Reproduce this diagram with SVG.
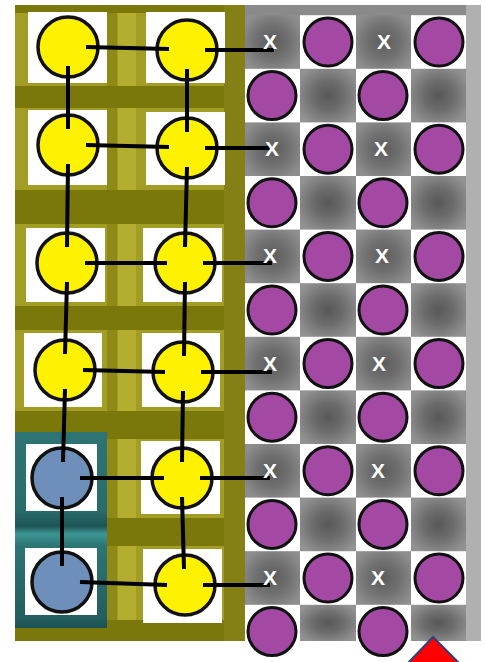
<svg xmlns="http://www.w3.org/2000/svg" width="486" height="662" viewBox="0 0 486 662">
<defs>
<radialGradient id="gtile" cx="0.5" cy="0.5" r="0.6">
  <stop offset="0" stop-color="#585858"/>
  <stop offset="0.45" stop-color="#6c6c6c"/>
  <stop offset="1" stop-color="#929292"/>
</radialGradient>
<radialGradient id="xtile" cx="0.5" cy="0.5" r="0.6">
  <stop offset="0" stop-color="#5c5c5c"/>
  <stop offset="0.5" stop-color="#707070"/>
  <stop offset="1" stop-color="#8e8e8e"/>
</radialGradient>
<linearGradient id="teal" x1="0" y1="0" x2="0" y2="1">
  <stop offset="0" stop-color="#2e7474"/>
  <stop offset="0.4" stop-color="#2a6c6c"/>
  <stop offset="0.48" stop-color="#1e5454"/>
  <stop offset="0.52" stop-color="#3d9696"/>
  <stop offset="0.58" stop-color="#2d7575"/>
  <stop offset="0.95" stop-color="#225e5e"/>
  <stop offset="1" stop-color="#1d5050"/>
</linearGradient>
</defs>
<style>
.sq{fill:#ffffff}
.yn{fill:#fff200;stroke:#111;stroke-width:3.5}
.bn{fill:#6e8fba;stroke:#111;stroke-width:3.5}
.pn{fill:#a349a4;stroke:#111;stroke-width:3}
.tile{fill:#ffffff}
.gt{fill:url(#gtile)}
.xt{fill:url(#xtile)}
.band{fill:#7a770b}
.xl{font-family:"Liberation Sans",Arial,sans-serif;font-weight:bold;font-size:21px;fill:#ffffff;text-anchor:middle}
.edge{stroke:#000;stroke-width:4;stroke-linecap:butt;fill:none}
</style>
<rect width="486" height="662" fill="#ffffff"/>
<g id="background">
  <rect x="15" y="5" width="232" height="636" fill="#a29d25"/>
  <rect x="118" y="5" width="18" height="636" fill="#b3ad30"/>
  <rect x="107" y="5" width="10" height="636" fill="#8f8a18"/>
  <rect class="band" x="15" y="5" width="232" height="8"/>
  <rect class="band" x="15" y="86" width="232" height="22"/>
  <rect class="band" x="15" y="190" width="232" height="34"/>
  <rect class="band" x="15" y="306" width="232" height="24"/>
  <rect class="band" x="15" y="411" width="232" height="28"/>
  <rect class="band" x="15" y="518" width="232" height="28"/>
  <rect class="band" x="15" y="620" width="232" height="21"/>
  <rect x="224" y="5" width="23" height="636" fill="#858015"/>
  <rect x="15" y="432" width="92" height="196" fill="url(#teal)"/>
  <rect x="245" y="5" width="236" height="636" fill="#8a8a8a"/>
  <rect x="466" y="5" width="15" height="636" fill="#b0b0b0"/>
  <g id="gray-tiles">
    <rect class="xt" x="245" y="15.2" width="55" height="53.6"/><rect class="xt" x="356" y="15.2" width="55" height="53.6"/>
    <rect class="gt" x="300" y="68.8" width="56" height="53.6"/><rect class="gt" x="411" y="68.8" width="55" height="53.6"/>
    <rect class="xt" x="245" y="122.4" width="55" height="53.6"/><rect class="xt" x="356" y="122.4" width="55" height="53.6"/>
    <rect class="gt" x="300" y="176" width="56" height="53.6"/><rect class="gt" x="411" y="176" width="55" height="53.6"/>
    <rect class="xt" x="245" y="229.6" width="55" height="53.6"/><rect class="xt" x="356" y="229.6" width="55" height="53.6"/>
    <rect class="gt" x="300" y="283.2" width="56" height="53.6"/><rect class="gt" x="411" y="283.2" width="55" height="53.6"/>
    <rect class="xt" x="245" y="336.8" width="55" height="53.6"/><rect class="xt" x="356" y="336.8" width="55" height="53.6"/>
    <rect class="gt" x="300" y="390.4" width="56" height="53.6"/><rect class="gt" x="411" y="390.4" width="55" height="53.6"/>
    <rect class="xt" x="245" y="444" width="55" height="53.6"/><rect class="xt" x="356" y="444" width="55" height="53.6"/>
    <rect class="gt" x="300" y="497.6" width="56" height="53.6"/><rect class="gt" x="411" y="497.6" width="55" height="53.6"/>
    <rect class="xt" x="245" y="551.2" width="55" height="53.6"/><rect class="xt" x="356" y="551.2" width="55" height="53.6"/>
    <rect class="gt" x="300" y="604.8" width="56" height="36.2"/><rect class="gt" x="411" y="604.8" width="55" height="36.2"/>
  </g>
  <g id="white-tiles">
    <rect class="tile" x="300" y="15.2" width="56" height="53.6"/><rect class="tile" x="411" y="15.2" width="55" height="53.6"/>
    <rect class="tile" x="245" y="68.8" width="55" height="53.6"/><rect class="tile" x="356" y="68.8" width="55" height="53.6"/>
    <rect class="tile" x="300" y="122.4" width="56" height="53.6"/><rect class="tile" x="411" y="122.4" width="55" height="53.6"/>
    <rect class="tile" x="245" y="176" width="55" height="53.6"/><rect class="tile" x="356" y="176" width="55" height="53.6"/>
    <rect class="tile" x="300" y="229.6" width="56" height="53.6"/><rect class="tile" x="411" y="229.6" width="55" height="53.6"/>
    <rect class="tile" x="245" y="283.2" width="55" height="53.6"/><rect class="tile" x="356" y="283.2" width="55" height="53.6"/>
    <rect class="tile" x="300" y="336.8" width="56" height="53.6"/><rect class="tile" x="411" y="336.8" width="55" height="53.6"/>
    <rect class="tile" x="245" y="390.4" width="55" height="53.6"/><rect class="tile" x="356" y="390.4" width="55" height="53.6"/>
    <rect class="tile" x="300" y="444" width="56" height="53.6"/><rect class="tile" x="411" y="444" width="55" height="53.6"/>
    <rect class="tile" x="245" y="497.6" width="55" height="53.6"/><rect class="tile" x="356" y="497.6" width="55" height="53.6"/>
    <rect class="tile" x="300" y="551.2" width="56" height="53.6"/><rect class="tile" x="411" y="551.2" width="55" height="53.6"/>
    <rect class="tile" x="245" y="604.8" width="55" height="57"/><rect class="tile" x="356" y="604.8" width="55" height="57"/>
  </g>
</g>
<g id="node-squares">
  <rect class="sq" x="28" y="12" width="79" height="71"/><rect class="sq" x="146" y="12" width="79" height="71"/>
  <rect class="sq" x="28" y="110" width="79" height="75"/><rect class="sq" x="146" y="112" width="79" height="73"/>
  <rect class="sq" x="26" y="228" width="79" height="74"/><rect class="sq" x="143" y="228" width="79" height="74"/>
  <rect class="sq" x="24" y="333" width="78" height="74"/><rect class="sq" x="142" y="333" width="78" height="74"/>
  <rect class="sq" x="26" y="444" width="71" height="67"/><rect class="sq" x="141" y="441" width="79" height="73"/>
  <rect class="sq" x="25" y="548" width="72" height="67"/><rect class="sq" x="143" y="549" width="79" height="74"/>
</g>
<g id="n-r1-l"><circle class="yn" cx="68" cy="47" r="30"/></g>
<g id="n-r1-r"><circle class="yn" cx="187" cy="50" r="30"/></g>
<g id="n-r2-l"><circle class="yn" cx="68" cy="145" r="30"/></g>
<g id="n-r2-r"><circle class="yn" cx="187" cy="148" r="30"/></g>
<g id="n-r3-l"><circle class="yn" cx="67" cy="263" r="30"/></g>
<g id="n-r3-r"><circle class="yn" cx="185" cy="263" r="30"/></g>
<g id="n-r4-l"><circle class="yn" cx="65" cy="370" r="30"/></g>
<g id="n-r4-r"><circle class="yn" cx="183" cy="372" r="30"/></g>
<g id="n-r5-l"><circle class="bn" cx="62" cy="478" r="30"/></g>
<g id="n-r5-r"><circle class="yn" cx="182" cy="478" r="30"/></g>
<g id="n-r6-l"><circle class="bn" cx="62" cy="582" r="30"/></g>
<g id="n-r6-r"><circle class="yn" cx="185" cy="585" r="30"/></g>
<g id="purple-nodes">
  <circle class="pn" cx="328" cy="42" r="24"/><circle class="pn" cx="439" cy="42" r="24"/>
  <circle class="pn" cx="272" cy="95.6" r="24"/><circle class="pn" cx="383" cy="95.6" r="24"/>
  <circle class="pn" cx="328" cy="149.2" r="24"/><circle class="pn" cx="439" cy="149.2" r="24"/>
  <circle class="pn" cx="272" cy="202.8" r="24"/><circle class="pn" cx="383" cy="202.8" r="24"/>
  <circle class="pn" cx="328" cy="256.4" r="24"/><circle class="pn" cx="439" cy="256.4" r="24"/>
  <circle class="pn" cx="272" cy="310" r="24"/><circle class="pn" cx="383" cy="310" r="24"/>
  <circle class="pn" cx="328" cy="363.6" r="24"/><circle class="pn" cx="439" cy="363.6" r="24"/>
  <circle class="pn" cx="272" cy="417.2" r="24"/><circle class="pn" cx="383" cy="417.2" r="24"/>
  <circle class="pn" cx="328" cy="470.8" r="24"/><circle class="pn" cx="439" cy="470.8" r="24"/>
  <circle class="pn" cx="272" cy="524.4" r="24"/><circle class="pn" cx="383" cy="524.4" r="24"/>
  <circle class="pn" cx="328" cy="578" r="24"/><circle class="pn" cx="439" cy="578" r="24"/>
  <circle class="pn" cx="272" cy="631.6" r="24"/><circle class="pn" cx="383" cy="631.6" r="24"/>
</g>
<g id="connectors">
  <line class="edge" x1="86" y1="47" x2="169" y2="49"/>
  <line class="edge" x1="86" y1="145" x2="169" y2="147"/>
  <line class="edge" x1="85" y1="263" x2="167" y2="263"/>
  <line class="edge" x1="83" y1="370" x2="165" y2="372"/>
  <line class="edge" x1="80" y1="478" x2="164" y2="478"/>
  <line class="edge" x1="80" y1="582" x2="167" y2="585"/>
  <line class="edge" x1="205" y1="50" x2="274" y2="50"/>
  <line class="edge" x1="205" y1="148" x2="270" y2="148"/>
  <line class="edge" x1="203" y1="263" x2="272" y2="263"/>
  <line class="edge" x1="201" y1="372" x2="272" y2="372"/>
  <line class="edge" x1="200" y1="478" x2="270" y2="478"/>
  <line class="edge" x1="203" y1="585" x2="270" y2="585"/>
  <line class="edge" x1="68" y1="66" x2="68" y2="129"/>
  <line class="edge" x1="68" y1="164" x2="67" y2="247"/>
  <line class="edge" x1="67" y1="282" x2="65" y2="354"/>
  <line class="edge" x1="65" y1="389" x2="63" y2="462"/>
  <line class="edge" x1="62" y1="497" x2="62" y2="566"/>
  <line class="edge" x1="187" y1="69" x2="187" y2="132"/>
  <line class="edge" x1="187" y1="167" x2="185" y2="247"/>
  <line class="edge" x1="185" y1="282" x2="184" y2="356"/>
  <line class="edge" x1="183" y1="391" x2="182" y2="462"/>
  <line class="edge" x1="182" y1="497" x2="184" y2="569"/>
</g>
<g id="x-labels">
  <text class="xl" x="270" y="49">X</text><text class="xl" x="384" y="49">X</text>
  <text class="xl" x="272" y="156">X</text><text class="xl" x="381" y="156">X</text>
  <text class="xl" x="270" y="263">X</text><text class="xl" x="382" y="263">X</text>
  <text class="xl" x="270" y="371">X</text><text class="xl" x="379" y="371">X</text>
  <text class="xl" x="270" y="478">X</text><text class="xl" x="378" y="478">X</text>
  <text class="xl" x="270" y="585">X</text><text class="xl" x="378" y="585">X</text>
</g>
<g id="marker-triangle">
  <polygon points="433,637 407,664 460,664" fill="#ff0000" stroke="#2f3f7f" stroke-width="2"/>
</g>
</svg>
